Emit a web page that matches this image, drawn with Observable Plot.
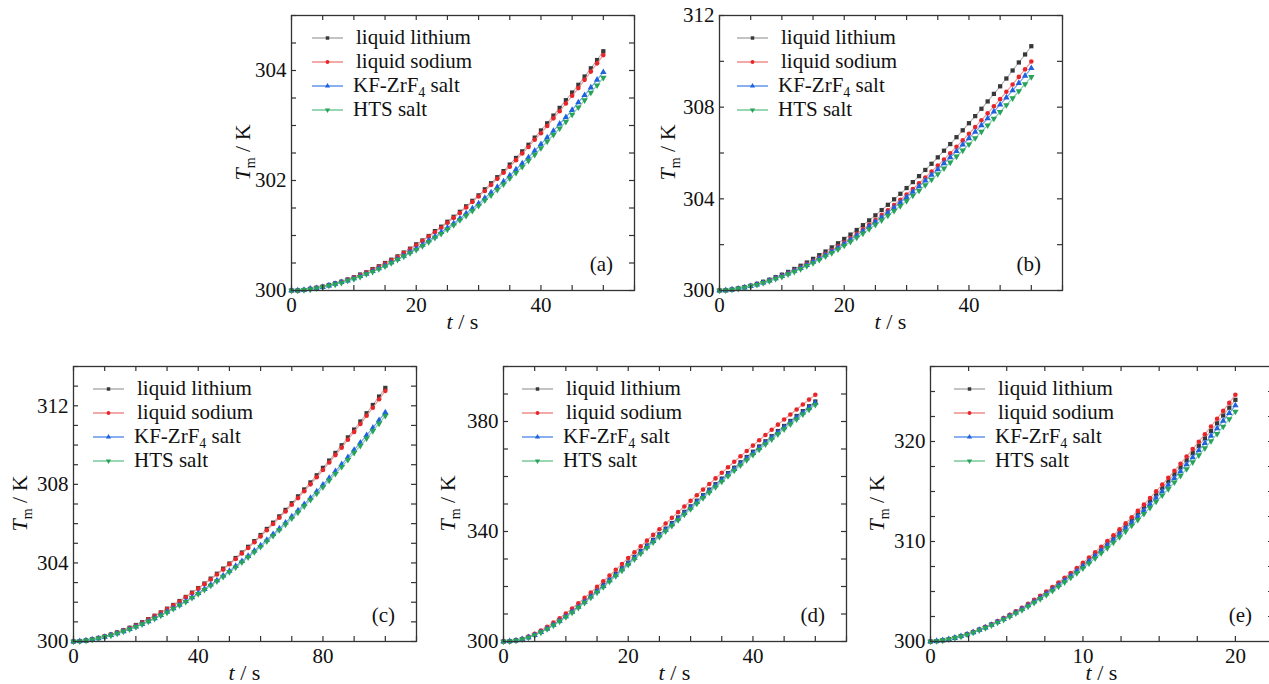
<!DOCTYPE html>
<html><head><meta charset="utf-8">
<script src="https://cdn.jsdelivr.net/npm/d3@7"></script>
<script src="https://cdn.jsdelivr.net/npm/@observablehq/plot@0.6"></script>
<style>
html,body{margin:0;padding:0;background:#fff;overflow:hidden;}
#root{position:relative;width:1269px;height:684px;overflow:hidden;background:#fff;font-family:'Liberation Serif';}
.panel{position:absolute;overflow:visible;}
</style></head><body><div id="root"></div>
<script>
// ---------- series names & colours ----------
const seriesNames = ["liquid lithium", "liquid sodium", "KF-ZrF4 salt", "HTS salt"];
const markerColors = ["#383838", "#e8262a", "#1f62e0", "#27a35a"];
const lineColors = ["#b4b4b4", "#f29494", "#6c9cec", "#80cc9f"];

// ---------- time grids (s) ----------
const tA = d3.range(0, 51);                      // panels a, b, d : 0..50 s every 1 s
const tC = d3.range(0, 51).map(i => 2 * i);      // panel c : 0..100 s every 2 s
const tE = d3.range(0, 51).map(i => +(0.4 * i).toFixed(1)); // panel e : 0..20 s every 0.4 s

// ---------- panel (a) T_m / K ----------
const aLithium = [300.00,300.00,300.01,300.03,300.05,300.07,300.10,300.13,300.16,300.20,300.24,300.29,300.33,300.39,300.44,300.50,300.56,300.62,300.69,300.76,300.84,300.91,300.99,301.08,301.16,301.25,301.34,301.43,301.53,301.63,301.73,301.84,301.95,302.06,302.17,302.29,302.41,302.53,302.65,302.78,302.91,303.04,303.18,303.32,303.46,303.60,303.74,303.89,304.04,304.19,304.35];
const aSodium = [300.00,300.00,300.01,300.03,300.05,300.07,300.09,300.12,300.16,300.20,300.24,300.28,300.33,300.38,300.43,300.49,300.55,300.61,300.68,300.75,300.82,300.90,300.98,301.06,301.14,301.23,301.32,301.41,301.51,301.61,301.71,301.81,301.92,302.03,302.14,302.25,302.37,302.49,302.61,302.74,302.86,302.99,303.13,303.26,303.40,303.54,303.68,303.83,303.98,304.13,304.28];
const aKF = [300.00,300.00,300.01,300.03,300.04,300.06,300.09,300.12,300.15,300.18,300.22,300.26,300.30,300.35,300.40,300.45,300.51,300.57,300.63,300.70,300.76,300.83,300.91,300.98,301.06,301.14,301.22,301.31,301.40,301.49,301.58,301.68,301.78,301.88,301.98,302.09,302.20,302.31,302.42,302.54,302.66,302.78,302.90,303.03,303.15,303.28,303.42,303.55,303.69,303.83,303.97];
const aHTS = [300.00,300.00,300.01,300.02,300.04,300.06,300.09,300.11,300.14,300.18,300.21,300.25,300.30,300.34,300.39,300.44,300.50,300.56,300.62,300.68,300.74,300.81,300.88,300.96,301.03,301.11,301.19,301.28,301.36,301.45,301.54,301.64,301.73,301.83,301.93,302.04,302.14,302.25,302.36,302.47,302.59,302.71,302.83,302.95,303.07,303.20,303.33,303.46,303.60,303.73,303.87];

// ---------- panel (b) ----------
const bLithium = [300.00,300.01,300.04,300.09,300.15,300.21,300.29,300.38,300.47,300.58,300.69,300.81,300.94,301.08,301.22,301.38,301.54,301.70,301.88,302.06,302.25,302.44,302.64,302.85,303.06,303.28,303.51,303.74,303.98,304.22,304.47,304.73,304.99,305.26,305.53,305.81,306.10,306.39,306.69,306.99,307.30,307.61,307.93,308.25,308.58,308.91,309.25,309.60,309.95,310.30,310.66];
const bSodium = [300.00,300.01,300.04,300.08,300.14,300.20,300.27,300.35,300.44,300.54,300.65,300.76,300.88,301.01,301.15,301.29,301.44,301.60,301.76,301.93,302.10,302.29,302.47,302.67,302.87,303.07,303.29,303.50,303.73,303.96,304.19,304.43,304.68,304.93,305.19,305.45,305.71,305.99,306.27,306.55,306.84,307.13,307.43,307.73,308.04,308.35,308.67,308.99,309.32,309.65,309.99];
const bKF = [300.00,300.01,300.04,300.08,300.13,300.19,300.26,300.34,300.43,300.53,300.63,300.74,300.86,300.98,301.11,301.25,301.40,301.55,301.71,301.87,302.04,302.22,302.40,302.59,302.79,302.99,303.19,303.40,303.62,303.84,304.07,304.30,304.54,304.79,305.04,305.29,305.55,305.81,306.08,306.36,306.64,306.92,307.21,307.51,307.81,308.11,308.42,308.73,309.05,309.37,309.70];
const bHTS = [300.00,300.01,300.04,300.08,300.13,300.19,300.25,300.33,300.41,300.51,300.60,300.71,300.82,300.94,301.07,301.20,301.34,301.49,301.64,301.80,301.96,302.13,302.31,302.49,302.68,302.87,303.07,303.27,303.48,303.69,303.91,304.14,304.36,304.60,304.84,305.08,305.33,305.59,305.85,306.11,306.38,306.65,306.93,307.21,307.50,307.79,308.09,308.39,308.70,309.01,309.32];

// ---------- panel (c) ----------
const cLithium = [300.00,300.02,300.05,300.11,300.18,300.26,300.35,300.46,300.57,300.70,300.84,300.98,301.14,301.31,301.48,301.67,301.86,302.06,302.27,302.49,302.72,302.95,303.20,303.45,303.71,303.97,304.25,304.53,304.82,305.11,305.42,305.73,306.05,306.37,306.70,307.04,307.39,307.74,308.10,308.46,308.84,309.21,309.60,309.99,310.39,310.79,311.20,311.62,312.04,312.47,312.91];
const cSodium = [300.00,300.02,300.05,300.11,300.17,300.25,300.35,300.45,300.57,300.69,300.83,300.97,301.13,301.29,301.47,301.65,301.84,302.04,302.25,302.46,302.69,302.92,303.16,303.41,303.66,303.93,304.20,304.48,304.76,305.05,305.35,305.66,305.98,306.30,306.62,306.96,307.30,307.65,308.00,308.36,308.73,309.11,309.49,309.87,310.27,310.67,311.07,311.49,311.90,312.33,312.76];
const cKF = [300.00,300.02,300.05,300.10,300.16,300.23,300.32,300.41,300.52,300.63,300.76,300.89,301.03,301.18,301.34,301.51,301.68,301.86,302.05,302.25,302.46,302.67,302.89,303.11,303.35,303.59,303.84,304.09,304.35,304.62,304.89,305.17,305.46,305.75,306.05,306.36,306.67,306.99,307.31,307.64,307.98,308.32,308.67,309.02,309.38,309.75,310.12,310.50,310.88,311.27,311.66];
const cHTS = [300.00,300.01,300.05,300.10,300.16,300.23,300.31,300.41,300.51,300.62,300.74,300.88,301.02,301.16,301.32,301.48,301.66,301.84,302.02,302.22,302.42,302.63,302.85,303.07,303.30,303.54,303.78,304.03,304.29,304.55,304.82,305.10,305.38,305.67,305.96,306.27,306.57,306.89,307.21,307.53,307.86,308.20,308.54,308.89,309.25,309.61,309.97,310.34,310.72,311.10,311.49];

// ---------- panel (d) ----------
const dLithium = [300.00,300.09,300.39,300.88,301.56,302.44,303.53,304.78,306.17,307.68,309.30,311.03,312.83,314.68,316.57,318.50,320.49,322.51,324.55,326.61,328.68,330.77,332.85,334.91,336.95,338.98,341.02,343.06,345.09,347.12,349.14,351.17,353.19,355.21,357.21,359.22,361.22,363.19,365.15,367.08,369.00,370.91,372.80,374.67,376.53,378.37,380.19,381.99,383.77,385.53,387.27];
const dSodium = [300.00,300.11,300.45,301.01,301.79,302.79,303.99,305.35,306.85,308.47,310.20,312.02,313.91,315.85,317.83,319.85,321.90,323.98,326.08,328.20,330.33,332.46,334.58,336.68,338.76,340.83,342.90,344.97,347.03,349.09,351.14,353.19,355.24,357.28,359.31,361.34,363.36,365.36,367.34,369.30,371.24,373.17,375.08,376.98,378.86,380.72,382.56,384.38,386.18,387.96,389.72];
const dKF = [300.00,300.09,300.38,300.85,301.51,302.36,303.43,304.65,306.02,307.50,309.10,310.81,312.59,314.42,316.29,318.20,320.17,322.18,324.21,326.25,328.31,330.39,332.46,334.51,336.54,338.57,340.60,342.63,344.66,346.68,348.69,350.72,352.73,354.75,356.74,358.75,360.74,362.70,364.66,366.58,368.50,370.40,372.29,374.15,376.01,377.84,379.66,381.45,383.23,384.99,386.72];
const dHTS = [300.00,300.08,300.36,300.82,301.45,302.27,303.30,304.50,305.84,307.29,308.86,310.54,312.30,314.11,315.95,317.84,319.80,321.79,323.80,325.83,327.87,329.94,332.00,334.04,336.06,338.07,340.10,342.12,344.14,346.15,348.16,350.18,352.19,354.20,356.18,358.18,360.17,362.13,364.08,365.99,367.90,369.80,371.68,373.54,375.39,377.22,379.03,380.82,382.59,384.34,386.07];

// ---------- panel (e) ----------
const eLithium = [300.00,300.04,300.12,300.23,300.37,300.54,300.73,300.94,301.18,301.43,301.70,301.99,302.29,302.62,302.96,303.32,303.69,304.08,304.48,304.90,305.33,305.78,306.24,306.71,307.20,307.70,308.22,308.74,309.29,309.84,310.41,310.98,311.57,312.18,312.79,313.42,314.06,314.71,315.37,316.04,316.73,317.42,318.13,318.85,319.57,320.31,321.06,321.82,322.60,323.38,324.17];
const eSodium = [300.00,300.04,300.12,300.24,300.38,300.55,300.75,300.96,301.20,301.46,301.73,302.03,302.34,302.67,303.02,303.38,303.76,304.16,304.57,305.00,305.44,305.90,306.37,306.85,307.35,307.86,308.39,308.93,309.48,310.04,310.62,311.21,311.81,312.43,313.06,313.69,314.35,315.01,315.69,316.37,317.07,317.78,318.50,319.24,319.98,320.73,321.50,322.28,323.06,323.86,324.67];
const eKF = [300.00,300.04,300.12,300.23,300.37,300.53,300.71,300.92,301.15,301.39,301.66,301.94,302.24,302.56,302.89,303.24,303.60,303.98,304.37,304.78,305.20,305.64,306.09,306.55,307.03,307.52,308.02,308.54,309.07,309.61,310.16,310.72,311.30,311.89,312.49,313.10,313.73,314.36,315.01,315.66,316.33,317.01,317.70,318.40,319.11,319.83,320.57,321.31,322.06,322.83,323.60];
const eHTS = [300.00,300.04,300.11,300.22,300.36,300.51,300.70,300.90,301.12,301.36,301.62,301.89,302.18,302.49,302.82,303.15,303.51,303.88,304.26,304.66,305.07,305.50,305.93,306.39,306.85,307.33,307.82,308.32,308.84,309.36,309.90,310.45,311.01,311.59,312.17,312.77,313.38,313.99,314.62,315.26,315.92,316.58,317.25,317.93,318.63,319.33,320.04,320.77,321.50,322.25,323.00];

// ---------- tick labels ----------
const xLabelsA = [0, 20, 40], yLabelsA = [300, 302, 304];
const xLabelsB = [0, 20, 40], yLabelsB = [300, 304, 308, 312];
const xLabelsC = [0, 40, 80], yLabelsC = [300, 304, 308, 312];
const xLabelsD = [0, 20, 40], yLabelsD = [300, 340, 380];
const xLabelsE = [0, 10, 20], yLabelsE = [300, 310, 320];

// ---------- layout ----------
const FW = 343, FH = 275, ML = 64, MR = 12, MT = 10, MB = 52;
const FONT = "Liberation Serif";
const sqrt3 = Math.sqrt(3);
const triDown = {draw(c, size) {
  const y = Math.sqrt(size / (sqrt3 * 3));
  c.moveTo(0, 2 * y); c.lineTo(-sqrt3 * y, -y); c.lineTo(sqrt3 * y, -y); c.closePath();
}};
const plotSymbols = ["square", "circle", "triangle", triDown];
const legendSymbols = [d3.symbolSquare, d3.symbolCircle, d3.symbolTriangle, triDown];
const radii = [2.4, 2.3, 2.4, 2.4];

const panels = [
  {letter: "a", t: tA, values: [aLithium, aSodium, aKF, aHTS], xDomain: [0, 55], yDomain: [300, 305],
   xTicks: d3.range(0, 55.01, 5), yTicks: d3.range(300, 305.01, 0.5), xLabels: xLabelsA, yLabels: yLabelsA,
   left: 291, top: 15, ylabOff: 48, legOff: 21},
  {letter: "b", t: tA, values: [bLithium, bSodium, bKF, bHTS], xDomain: [0, 55], yDomain: [300, 312],
   xTicks: d3.range(0, 55.01, 5), yTicks: d3.range(300, 312.01, 2), xLabels: xLabelsB, yLabels: yLabelsB,
   left: 719, top: 15, ylabOff: 51, legOff: 18},
  {letter: "c", t: tC, values: [cLithium, cSodium, cKF, cHTS], xDomain: [0, 110], yDomain: [300, 314],
   xTicks: d3.range(0, 110.01, 10), yTicks: d3.range(300, 314.01, 1), xLabels: xLabelsC, yLabels: yLabelsC,
   left: 73, top: 366, ylabOff: 53, legOff: 20},
  {letter: "d", t: tA, values: [dLithium, dSodium, dKF, dHTS], xDomain: [0, 55], yDomain: [300, 400],
   xTicks: d3.range(0, 55.01, 5), yTicks: d3.range(300, 400.01, 10), xLabels: xLabelsD, yLabels: yLabelsD,
   left: 503, top: 366, ylabOff: 55, legOff: 19},
  {letter: "e", t: tE, values: [eLithium, eSodium, eKF, eHTS], xDomain: [0, 22.5], yDomain: [300, 327.5],
   xTicks: d3.range(0, 22.51, 2.5), yTicks: d3.range(300, 327.51, 2.5), xLabels: xLabelsE, yLabels: yLabelsE,
   left: 930, top: 366, ylabOff: 53, legOff: 24}
];

const root = document.getElementById("root");

function drawPanel(p) {
  const marks = [];
  p.values.forEach((vals, k) => {
    marks.push(Plot.line(vals, {x: (d, i) => p.t[i], y: d => d, stroke: lineColors[k], strokeWidth: 1.1}));
    marks.push(Plot.dot(vals, {x: (d, i) => p.t[i], y: d => d, symbol: plotSymbols[k], r: radii[k], fill: markerColors[k], stroke: "none"}));
  });
  const tk = {stroke: "#333", strokeWidth: 1.2};
  marks.push(Plot.tickX(p.xTicks, {x: d => d, insetTop: FH - 5, ...tk}));
  marks.push(Plot.tickX(p.xTicks, {x: d => d, insetBottom: FH - 5, ...tk}));
  marks.push(Plot.tickY(p.yTicks, {y: d => d, insetRight: FW - 5, ...tk}));
  marks.push(Plot.tickY(p.yTicks, {y: d => d, insetLeft: FW - 5, ...tk}));
  marks.push(Plot.frame({stroke: "#333", strokeWidth: 1.3}));
  marks.push(Plot.axisX({ticks: p.xLabels, tickFormat: d => String(d), tickSize: 0, tickPadding: 7, label: null, fontSize: 21, fontFamily: FONT, fill: "#111"}));
  marks.push(Plot.axisY({ticks: p.yLabels, tickFormat: d => String(d), tickSize: 0, tickPadding: 5, label: null, fontSize: 21, fontFamily: FONT, fill: "#111"}));

  const svg = Plot.plot({
    width: ML + FW + MR, height: MT + FH + MB,
    marginLeft: ML, marginRight: MR, marginTop: MT, marginBottom: MB,
    x: {domain: p.xDomain}, y: {domain: p.yDomain},
    marks
  });
  svg.setAttribute("font-family", FONT);
  svg.setAttribute("font-size", "21");
  svg.style.fontFamily = FONT;
  svg.style.background = "transparent";
  svg.style.overflow = "visible";
  svg.style.maxWidth = "none";
  svg.classList.add("panel");
  svg.style.left = (p.left - ML) + "px";
  svg.style.top = (p.top - MT) + "px";
  root.appendChild(svg);

  const g = d3.select(svg);
  // x label
  const xl = g.append("text").attr("x", ML + FW / 2).attr("y", MT + FH + 39)
    .attr("text-anchor", "middle").attr("fill", "#111").attr("font-size", 22);
  xl.append("tspan").attr("font-style", "italic").text("t");
  xl.append("tspan").text(" / s");
  // y label
  const yl = g.append("text")
    .attr("transform", `translate(${ML - p.ylabOff + 7},${MT + FH / 2}) rotate(-90)`)
    .attr("text-anchor", "middle").attr("fill", "#111").attr("font-size", 22);
  yl.append("tspan").attr("font-style", "italic").text("T");
  yl.append("tspan").attr("dy", 5).attr("font-size", 14).text("m");
  yl.append("tspan").attr("dy", -5).text(" / K");
  // panel letter
  g.append("text").attr("x", ML + FW - 21).attr("y", MT + FH - 19)
    .attr("text-anchor", "end").attr("fill", "#111").attr("font-size", 21).text(`(${p.letter})`);
  // legend
  const rows = [23, 47, 71, 95];
  rows.forEach((ry, k) => {
    const y = MT + ry, x0 = ML + p.legOff;
    g.append("line").attr("x1", x0).attr("x2", x0 + 31).attr("y1", y).attr("y2", y)
      .attr("stroke", lineColors[k]).attr("stroke-width", 1.6);
    g.append("path").attr("transform", `translate(${x0 + 15.5},${y})`)
      .attr("d", d3.symbol(legendSymbols[k], 12)()).attr("fill", markerColors[k]);
    const tx = g.append("text").attr("x", x0 + (k < 2 ? 44 : 41)).attr("y", y + 6)
      .attr("text-anchor", "start").attr("fill", "#111").attr("font-size", 21);
    if (k === 2) {
      tx.append("tspan").text("KF-ZrF");
      tx.append("tspan").attr("dy", 5).attr("font-size", 14).text("4");
      tx.append("tspan").attr("dy", -5).text(" salt");
    } else {
      tx.text(seriesNames[k]);
    }
  });
  // force the serif family on every text node
  g.selectAll("text, tspan").attr("font-family", FONT).style("font-family", FONT);
}

panels.forEach(drawPanel);
</script>
</body></html>
